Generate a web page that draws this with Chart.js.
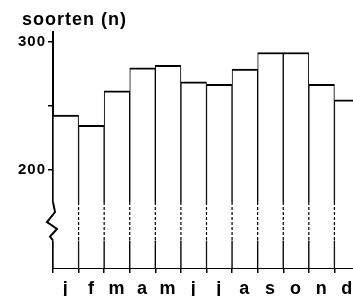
<!DOCTYPE html>
<html>
<head>
<meta charset="utf-8">
<script src="https://cdn.jsdelivr.net/npm/chart.js@4"></script>
<style>
  body { margin: 0; background: #fff; overflow: hidden; }
  #wrap { width: 353px; height: 296px; overflow: hidden; position: relative; }
</style>
</head>
<body>
<div id="wrap"><canvas id="myChart" width="365" height="296"></canvas></div>
<script>
// maanden en aantal soorten per maand
const maanden = ['j', 'f', 'm', 'a', 'm', 'j', 'j', 'a', 's', 'o', 'n', 'd'];
const soorten = [243, 235, 262, 280, 282, 269, 267, 279, 292, 292, 267, 255];

// as-instellingen
const yTicks = [200, 250, 300];
const yLabels = ['200', '', '300'];
const yMin = 123.5;
const yMax = 308;
const asBreuk = [145, 175]; // onderbroken stuk van de as

const titel = 'soorten (n)';

// tekent titel, de onderbreking en het zigzagje op de as
const breukPlugin = {
  id: 'breuk',
  beforeDraw(chart) {
    chart.ctx.letterSpacing = '1px';
  },
  afterDatasetsDraw(chart) {
    const ctx = chart.ctx;
    const y = chart.scales.y;
    const area = chart.chartArea;
    const top = y.getPixelForValue(asBreuk[1]);
    const bot = y.getPixelForValue(asBreuk[0]);
    ctx.save();
    ctx.fillStyle = '#fff';
    ctx.fillRect(area.left - 10, top, area.right - area.left + 20, bot - top);

    // stippellijnen tussen de staven
    const meta = chart.getDatasetMeta(0);
    ctx.strokeStyle = '#000';
    ctx.lineWidth = 1.2;
    ctx.setLineDash([3, 2]);
    meta.data.forEach(function(bar, i) {
      if (i === 0) return;
      const x = bar.x - bar.width / 2;
      ctx.beginPath();
      ctx.moveTo(x, top);
      ctx.lineTo(x, bot);
      ctx.stroke();
    });
    ctx.setLineDash([]);

    // zigzag op de y-as
    const ax = area.left;
    const h = bot - top;
    ctx.lineWidth = 2;
    ctx.beginPath();
    ctx.moveTo(ax, top);
    ctx.lineTo(ax + 2, top + h * 0.26);
    ctx.lineTo(ax - 6, top + h * 0.52);
    ctx.lineTo(ax + 4, top + h * 0.7);
    ctx.lineTo(ax - 3, top + h * 0.9);
    ctx.lineTo(ax, bot);
    ctx.stroke();
    ctx.restore();
  },
  afterDraw(chart) {
    const ctx = chart.ctx;
    ctx.save();
    ctx.letterSpacing = '1px';
    ctx.fillStyle = '#000';
    ctx.font = 'bold 18px "Liberation Sans", Arial, sans-serif';
    ctx.textBaseline = 'alphabetic';
    ctx.textAlign = 'left';
    ctx.fillText(titel, 22, 25);
    ctx.restore();
  }
};

const ctx = document.getElementById('myChart');

const myChart = new Chart(ctx, {
  type: 'bar',
  data: {
    labels: maanden,
    datasets: [{
      data: soorten,
      backgroundColor: '#fff',
      borderColor: '#000',
      borderWidth: { top: 2, left: 1, right: 1, bottom: 0 },
      barPercentage: 1,
      categoryPercentage: 1
    }]
  },
  options: {
    responsive: false,
    animation: false,
    devicePixelRatio: 1,
    layout: { padding: { top: 32, right: 5, left: 0, bottom: 0 } },
    plugins: {
      legend: { display: false },
      tooltip: { enabled: false }
    },
    scales: {
      x: {
        z: 1,
        offset: true,
        grid: { drawOnChartArea: false, offset: true, tickLength: 5, color: '#000', lineWidth: 1.5 },
        border: { color: '#000', width: 2 },
        ticks: {
          color: '#000',
          padding: 5,
          maxRotation: 0,
          autoSkip: false,
          font: { family: '"Liberation Sans", Arial, sans-serif', size: 18, weight: 'bold' }
        },
        afterFit(scale) { scale.height = 28; }
      },
      y: {
        min: yMin,
        max: yMax,
        afterBuildTicks(scale) {
          scale.ticks = yTicks.map(v => ({ value: v }));
        },
        grid: { drawOnChartArea: false, tickLength: 5, color: '#000', lineWidth: 1.5 },
        border: { color: '#000', width: 2 },
        ticks: {
          color: '#000',
          padding: 2,
          font: { family: '"Liberation Sans", Arial, sans-serif', size: 15, weight: 'bold' },
          callback: function(value) {
            const i = yTicks.indexOf(value);
            return i >= 0 ? yLabels[i] : '';
          }
        },
        afterFit(scale) { scale.width = 53; }
      }
    }
  },
  plugins: [breukPlugin]
});
</script>
</body>
</html>
